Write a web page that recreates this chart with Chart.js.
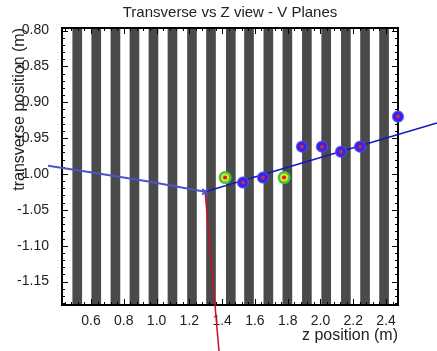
<!DOCTYPE html>
<html>
<head>
<meta charset="utf-8">
<script src="https://cdn.jsdelivr.net/npm/chart.js@4.4.1/dist/chart.umd.min.js"></script>
<style>
  html, body { margin: 0; padding: 0; background: #fff; }
  #wrap { width: 437px; height: 351px; }
</style>
</head>
<body>
<div id="wrap"><canvas id="view"></canvas></div>
<script>
// V plane positions along z (m)
const planeZ = [0.516, 0.632, 0.749, 0.865, 0.981, 1.097, 1.216, 1.332, 1.453,
                1.564, 1.682, 1.798, 1.917, 2.035, 2.155, 2.272, 2.388];

// hits on the planes
const hitZ = [1.527, 1.649, 1.887, 2.009, 2.125, 2.241, 2.473];
const hitY = [-1.012, -1.005, -0.962, -0.962, -0.969, -0.962, -0.920];
const goodHitZ = [1.418, 1.778];
const goodHitY = [-1.005, -1.005];

// incoming track, outgoing fit and the secondary (red) one
const inTrackZ = [0.338, 0.655, 0.960, 1.296];
const inTrackY = [-0.9886, -0.9997, -1.011, -1.0249];
const outTrackZ = [1.296, 2.711];
const outTrackY = [-1.0249, -0.929];
const redTrackZ = [1.296, 1.381];
const redTrackY = [-1.0249, -1.247];
const vertexZ = [1.296];
const vertexY = [-1.0249];

const xTicks = [0.6, 0.8, 1.0, 1.2, 1.4, 1.6, 1.8, 2.0, 2.2, 2.4];
const yTicks = [-0.80, -0.85, -0.90, -0.95, -1.00, -1.05, -1.10, -1.15];

const X_MIN = 0.423, X_MAX = 2.473;
const Y_MIN = -1.1827, Y_MAX = -0.7965;
const FONT = 'Liberation Sans, Arial, sans-serif';

const pts = (zs, ys) => zs.map((z, i) => ({ x: z, y: ys[i] }));

// minor tick values, 5 subdivisions per major step
function minorValues(majors, lo, hi) {
    const step = Math.abs(majors[1] - majors[0]) / 5;
    let v = Math.min(...majors);
    while (v - step >= lo - 1e-9) v -= step;
    const out = [];
    for (; v <= hi + 1e-9; v += step) out.push(v);
    return out;
}

// black frame with inward ticks on all four sides, drawn right after the planes
const framePlugin = {
    id: 'frame',
    afterDatasetDraw(chart, args) {
        if (args.index !== 0) return;
        const { ctx, chartArea: a, scales: { x, y } } = chart;
        ctx.save();
        ctx.strokeStyle = '#000';
        ctx.lineWidth = 1;
        ctx.beginPath();
        const xMajor = new Set(xTicks.map(v => v.toFixed(3)));
        minorValues(xTicks, X_MIN, X_MAX).forEach(v => {
            const px = Math.round(x.getPixelForValue(v)) + 0.5;
            const len = xMajor.has(v.toFixed(3)) ? 6 : 3;
            ctx.moveTo(px, a.bottom); ctx.lineTo(px, a.bottom - len);
            ctx.moveTo(px, a.top); ctx.lineTo(px, a.top + len);
        });
        const yMajor = new Set(yTicks.map(v => v.toFixed(3)));
        minorValues(yTicks, Y_MIN, Y_MAX).forEach(v => {
            const py = Math.round(y.getPixelForValue(v)) + 0.5;
            const len = yMajor.has(v.toFixed(3)) ? 6 : 3;
            ctx.moveTo(a.left, py); ctx.lineTo(a.left + len, py);
            ctx.moveTo(a.right, py); ctx.lineTo(a.right - len, py);
        });
        ctx.stroke();
        ctx.lineWidth = 2;
        ctx.strokeRect(a.left, a.top, a.right - a.left, a.bottom - a.top);
        ctx.restore();
    }
};

new Chart(document.getElementById('view'), {
    type: 'scatter',
    data: {
        datasets: [
            {
                type: 'bar',
                data: planeZ.map(z => ({ x: z, y: [Y_MIN, Y_MAX] })),
                backgroundColor: '#4a4a4a',
                borderWidth: 0,
                barThickness: 9,
                grouped: false,
                order: 10
            },
            {
                type: 'line',
                data: pts(inTrackZ, inTrackY),
                borderColor: '#5151c9',
                borderWidth: 2,
                pointRadius: 0,
                clip: false,
                order: 6
            },
            {
                type: 'line',
                data: pts(outTrackZ, outTrackY),
                borderColor: '#1414c4',
                borderWidth: 1.5,
                pointRadius: 0,
                clip: false,
                order: 5
            },
            {
                type: 'line',
                data: pts(redTrackZ, redTrackY),
                borderColor: '#c8102e',
                borderWidth: 1.5,
                pointRadius: 0,
                clip: false,
                order: 5
            },
            {
                data: pts(vertexZ, vertexY),
                pointStyle: 'crossRot',
                pointRadius: 4,
                borderColor: '#5151c9',
                borderWidth: 2,
                clip: false,
                order: 4
            },
            {
                data: pts(hitZ, hitY),
                pointRadius: 5.5,
                backgroundColor: '#2828ee',
                borderColor: 'rgba(110,70,220,0.7)',
                borderWidth: 1.5,
                clip: false,
                order: 3
            },
            {
                data: pts(hitZ, hitY),
                pointRadius: 2,
                backgroundColor: '#e0204f',
                borderWidth: 0,
                clip: false,
                order: 2
            },
            {
                data: pts(goodHitZ, goodHitY),
                pointRadius: 6.5,
                backgroundColor: '#3cc83c',
                borderWidth: 0,
                order: 3
            },
            {
                data: pts(goodHitZ, goodHitY),
                pointRadius: 4,
                backgroundColor: '#e8e02a',
                borderWidth: 0,
                order: 2
            },
            {
                data: pts(goodHitZ, goodHitY),
                pointRadius: 2,
                backgroundColor: '#d42020',
                borderWidth: 0,
                order: 1
            }
        ]
    },
    options: {
        responsive: true,
        maintainAspectRatio: false,
        animation: false,
        events: [],
        layout: { padding: { right: 39 } },
        plugins: {
            legend: { display: false },
            tooltip: { enabled: false },
            title: {
                display: true,
                text: 'Transverse vs Z view - V Planes',
                fullSize: false,
                color: '#222',
                font: { family: FONT, size: 15, weight: 'normal' },
                padding: { top: 4, bottom: 6 }
            }
        },
        scales: {
            x: {
                type: 'linear',
                min: X_MIN,
                max: X_MAX,
                offset: false,
                grid: { display: false },
                border: { display: false },
                afterBuildTicks: s => { s.ticks = xTicks.map(v => ({ value: v })); },
                afterFit: s => { s.height = 46; },
                ticks: {
                    color: '#222',
                    padding: 0,
                    maxRotation: 0,
                    autoSkip: false,
                    font: { family: FONT, size: 14 },
                    callback: v => v.toFixed(1)
                },
                title: {
                    display: true,
                    text: 'z position (m)',
                    align: 'end',
                    color: '#222',
                    font: { family: FONT, size: 16 },
                    padding: { top: 0, bottom: 6 }
                }
            },
            y: {
                min: Y_MIN,
                max: Y_MAX,
                grid: { display: false },
                border: { display: false },
                afterBuildTicks: s => { s.ticks = yTicks.map(v => ({ value: v })); },
                afterFit: s => { s.width = 62; },
                ticks: {
                    color: '#222',
                    padding: 5,
                    autoSkip: false,
                    font: { family: FONT, size: 14 },
                    callback: v => v.toFixed(2)
                },
                title: {
                    display: true,
                    text: 'transverse position (m)',
                    align: 'end',
                    color: '#222',
                    font: { family: FONT, size: 16 },
                    padding: { top: 10, bottom: 0 }
                }
            }
        }
    },
    plugins: [framePlugin]
});
</script>
</body>
</html>
